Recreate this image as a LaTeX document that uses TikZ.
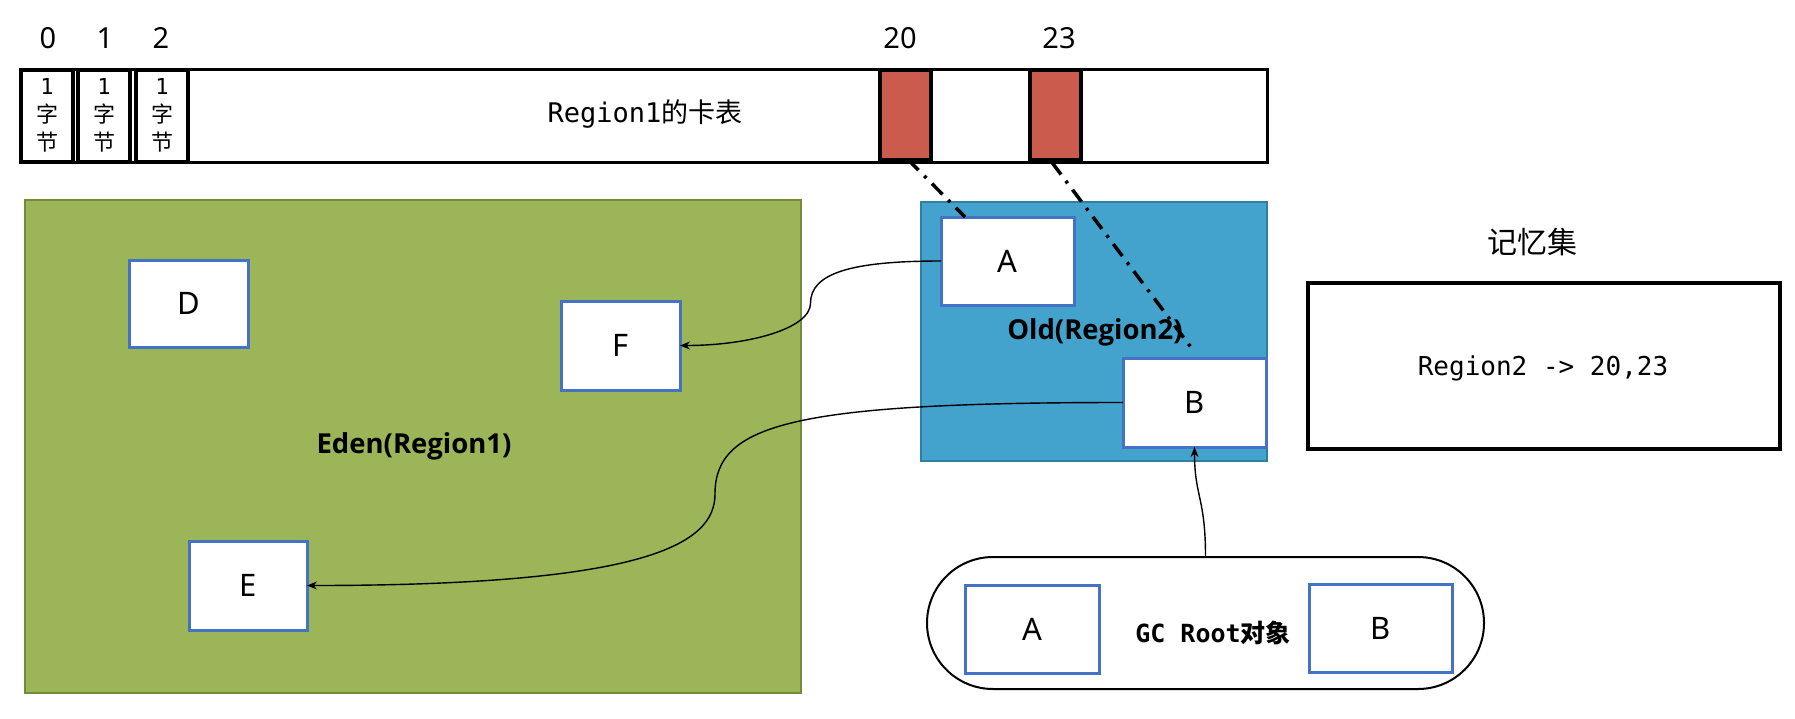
\documentclass[tikz,border=0pt]{standalone}
\usepackage{fontspec}
\setmainfont{Noto Sans}
\newfontfamily\cjk{Noto Sans CJK SC}
\newfontfamily\mono{DejaVu Sans Mono}
\newfontfamily\lblfont{Open Sans}
\usetikzlibrary{arrows.meta,calc}
\definecolor{edenfill}{HTML}{9BB558}
\definecolor{edenline}{HTML}{728C3C}
\definecolor{oldfill}{HTML}{44A3CC}
\definecolor{oldline}{HTML}{2F7EA3}
\definecolor{boxblue}{HTML}{4472C4}
\definecolor{cardred}{HTML}{CB5B4D}
\begin{document}
\begin{tikzpicture}[x=1pt,y=-1pt,
  every node/.style={inner sep=0pt,outer sep=0pt},
  tablebox/.style={draw=black,line width=3pt,fill=white},
  cellbox/.style={draw=black,line width=4pt,fill=white,minimum width=52pt,minimum height=92pt,
    align=center,font=\cjk\fontsize{22}{28}\selectfont},
  redcell/.style={draw=black,line width=4pt,fill=cardred,minimum width=51pt,minimum height=90pt},
  numlbl/.style={font=\fontsize{29}{31}\selectfont},
  region/.style={line width=1.5pt},
  regionlbl/.style={font=\lblfont\bfseries\fontsize{27.5}{29}\selectfont},
  obj/.style={draw=boxblue,line width=3pt,fill=white,font=\fontsize{31}{33}\selectfont},
  dashdotline/.style={line width=3.5pt,dash pattern=on 15pt off 8pt on 3pt off 8pt},
  arr/.style={line width=1.4pt,-{Stealth[length=10pt,width=8pt]}}]
\useasboundingbox (0,0) rectangle (1795,718);
\fill[white] (0,0) rectangle (1795,718);

% card table
\node[tablebox,minimum width=1246pt,minimum height=93pt] (ct) at (644,115.5) {};
\node[font=\fontsize{27}{29}\selectfont] (ctlabel) at (645,114) {{\mono Region1}{\cjk 的卡表}};
\node[cellbox] (c0) at (47,115.5) {{\mono 1}\\字\\节};
\node[cellbox] (c1) at (104,115.5) {{\mono 1}\\字\\节};
\node[cellbox] (c2) at (162,115.5) {{\mono 1}\\字\\节};
\node[redcell] (r20) at (905,114.5) {};
\node[redcell] (r23) at (1055,114.5) {};
\node[numlbl] (n0) at (48,38) {0};
\node[numlbl] (n1) at (105,38) {1};
\node[numlbl] (n2) at (161,38) {2};
\node[numlbl] (n20) at (900,38) {20};
\node[numlbl] (n23) at (1059,38) {23};

% Eden region
\node[region,draw=edenline,fill=edenfill,minimum width=776pt,minimum height=493pt] (eden) at (413,446.5) {};
\node[regionlbl] (edenlbl) at (414,446) {Eden(Region1)};
\node[obj,minimum width=119pt,minimum height=87pt] (D) at (188.5,303.5) {D};
\node[obj,minimum width=119pt,minimum height=89pt] (F) at (620.5,345.5) {F};
\node[obj,minimum width=118pt,minimum height=89pt] (E) at (248,585.5) {E};

% Old region
\node[region,draw=oldline,fill=oldfill,minimum width=346pt,minimum height=259pt] (old) at (1094,331.5) {};
\node[regionlbl] (oldlbl) at (1095,332) {Old(Region2)};
\node[obj,minimum width=133pt,minimum height=88pt] (A) at (1007.5,261) {A};
\node[obj,minimum width=143pt,minimum height=89pt] (B) at (1194.5,402.5) {B};

% remembered set
\node[font=\cjk\fontsize{30}{32}\selectfont] (rstitle) at (1532,242) {记忆集};
\node[draw=black,line width=3.5pt,minimum width=472pt,minimum height=166pt] (rs) at (1544,366) {};
\node[font=\mono\fontsize{26}{28}\selectfont] (rstext) at (1543,368) {Region2 -> 20,23};

% GC roots
\node[draw=black,line width=2pt,fill=white,rounded corners=66pt,minimum width=557pt,minimum height=132pt] (gc) at (1205.5,623) {};
\node[obj,minimum width=134pt,minimum height=88pt] (gA) at (1032,629) {A};
\node[obj,minimum width=143pt,minimum height=88pt] (gB) at (1380.5,628) {B};
\node[font=\bfseries\fontsize{25}{27}\selectfont] (gclbl) at (1213,633) {{\mono\bfseries GC Root}{\cjk\bfseries 对象}};

% dash-dot links from cards
\draw[dashdotline] ($(r20.south)+(3,0)$) -- ($(A.north west)+(24,0)$);
\draw[dashdotline] ($(r23.south)+(-3,3)$) -- ($(B.north)+(0,-6)$);

% references
\draw[arr] (A.west) .. controls +(-90,0) and +(0,-30) .. ($(A.west)!0.5!(F.east)$)
  .. controls +(0,25) and +(70,0) .. (F.east);
\draw[arr] (B.west) .. controls +(-330,0) and +(0,-70) .. ($(B.west)!0.5!(E.east)$)
  .. controls +(0,50) and +(340,0) .. (E.east);
\draw[arr] (gc.north) .. controls +(0,-60) and +(0,50) .. (B.south);
\end{tikzpicture}
\end{document}
